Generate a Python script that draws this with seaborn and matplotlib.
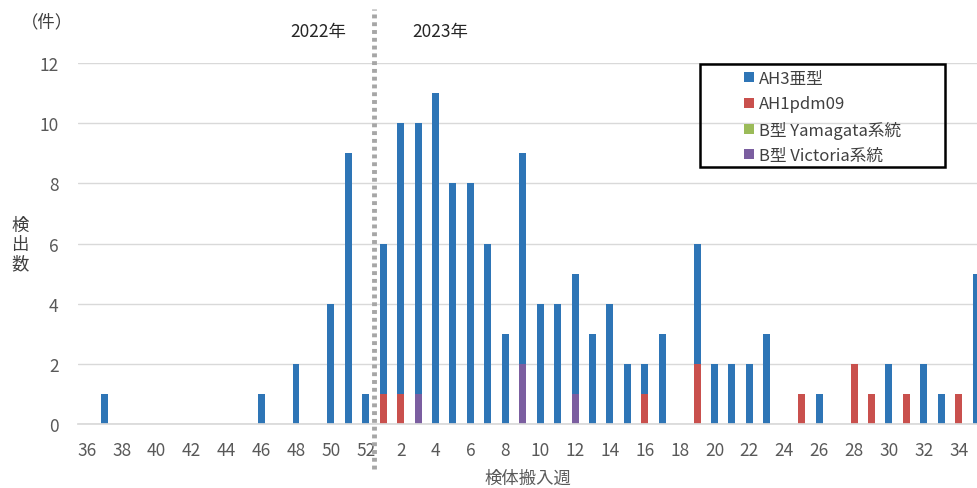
import pandas as pd
import matplotlib
matplotlib.use("Agg")
import matplotlib.pyplot as plt
import seaborn as sns
from matplotlib.lines import Line2D
from matplotlib.patches import Rectangle

# --- Data: weeks 36-52 of 2022, then weeks 1-35 of 2023 ---
weeks_2022 = list(range(36, 53))
weeks_2023 = list(range(1, 36))
week_labels = [str(w) for w in weeks_2022 + weeks_2023]

ah3 = [0, 1, 0, 0, 0, 0, 0, 0, 0, 0, 1, 0, 2, 0, 4, 9, 1,
       5, 9, 9, 11, 8, 8, 6, 3, 7, 4, 4, 4, 3, 4, 2, 1, 3, 0, 4, 2, 2, 2, 3,
       0, 0, 1, 0, 0, 0, 2, 0, 2, 1, 0, 5]
ah1pdm = [0] * 17 + [1, 1, 0, 0, 0, 0, 0, 0, 0, 0, 0, 0, 0, 0, 0, 1, 0, 0, 2, 0, 0, 0, 0,
                     0, 1, 0, 0, 2, 1, 0, 1, 0, 0, 1, 0]
yamagata = [0] * 52
victoria = [0] * 17 + [0, 0, 1, 0, 0, 0, 0, 0, 2, 0, 0, 1, 0, 0, 0, 0, 0, 0, 0, 0, 0, 0, 0,
                       0, 0, 0, 0, 0, 0, 0, 0, 0, 0, 0, 0]

series_names = ["AH3亜型", "AH1pdm09", "B型 Yamagata系統", "B型 Victoria系統"]
colors = ["#2E75B6", "#C9504D", "#9BBB59", "#7B5EA0"]

df = pd.DataFrame({"week": week_labels, "AH3": ah3, "AH1": ah1pdm,
                   "Yam": yamagata, "Vic": victoria})
# cumulative layers, drawn back to front (bottom: AH1, Vic, Yam, top: AH3)
df["l_red"] = df["AH1"]
df["l_grn"] = df["l_red"] + df["Yam"]
df["l_pur"] = df["l_grn"] + df["Vic"]
df["l_blu"] = df["l_pur"] + df["AH3"]

sns.set_theme(style="white")
plt.rcParams["font.family"] = ["Noto Sans CJK JP", "DejaVu Sans"]

fig = plt.figure(figsize=(9.77, 4.89), dpi=100)
ax = fig.add_axes([78 / 977, 1 - 425 / 489, (977 - 78) / 977, 361 / 489])

for col, c in [("l_blu", colors[0]), ("l_pur", colors[3]),
               ("l_grn", colors[2]), ("l_red", colors[1])]:
    sns.barplot(data=df, x="week", y=col, order=week_labels, color=c,
                width=0.4, saturation=1, ax=ax, linewidth=0)

ax.set_xlim(-0.5, 51.05)
ax.set_ylim(0, 12)
ax.set_yticks(range(0, 13, 2))
ax.yaxis.grid(True, color="#D9D9D9", linewidth=1)
ax.set_axisbelow(True)
tick_pos = list(range(0, 52, 2))
ax.set_xticks(tick_pos)
ax.set_xticklabels([week_labels[i] for i in tick_pos])
ax.tick_params(axis="both", length=0, labelsize=12.5, labelcolor="#595959")
ax.tick_params(axis="x", pad=12)
ax.tick_params(axis="y", pad=14)
for s in ["top", "right", "left"]:
    ax.spines[s].set_visible(False)
ax.spines["bottom"].set_color("#D9D9D9")
ax.set_xlabel("検体搬入週", fontsize=12.5, color="#595959", labelpad=7)
ax.set_ylabel("")

# year divider
ax.plot([16.5, 16.5], [-0.125, 1.15], transform=ax.get_xaxis_transform(),
        color="#A6A6A6", linewidth=3.5, linestyle=(0, (0.8, 0.8)), clip_on=False)
fig.text(318 / 977, 1 - 32 / 489, "2022年", ha="center", va="center", fontsize=12.5, color="#262626")
fig.text(440 / 977, 1 - 32 / 489, "2023年", ha="center", va="center", fontsize=12.5, color="#262626")

fig.text(47 / 977, 1 - 22 / 489, "（件）", ha="center", va="center", fontsize=12.5, color="#404040")
fig.text(20 / 977, 1 - 245 / 489, "検\n出\n数", ha="center", va="center", fontsize=12.5,
         color="#404040", linespacing=1.1)

# legend
fig.patches.append(Rectangle((700 / 977, 1 - 168 / 489), 245 / 977, 103 / 489,
                             transform=fig.transFigure, fill=False,
                             edgecolor="black", linewidth=1.8))
handles = [Line2D([], [], marker="s", linestyle="none", markersize=7,
                  markerfacecolor=c, markeredgewidth=0) for c in colors]
fig.legend(handles, series_names, loc="upper left",
           bbox_to_anchor=(729 / 977, 1 - 56 / 489), frameon=False,
           fontsize=12, handlelength=0.6, handletextpad=0.3,
           labelspacing=0.5, labelcolor="#404040")

fig.savefig("out.png", dpi=100)
